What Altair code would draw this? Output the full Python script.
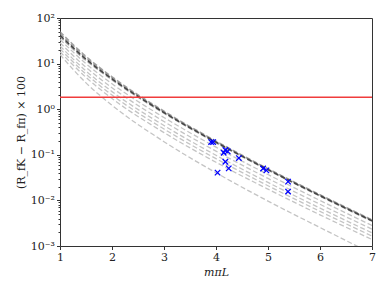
import altair as alt
import pandas as pd

# x grid (m_pi L) at which the curves are read
x_grid = [1, 1.5, 2, 3, 4, 5, 6, 7]

# dark band curves
band_1 = [50.1, 14.4, 5.13, 0.906, 0.200, 0.0495, 0.0133, 0.00375]
band_2 = [45.7, 13.4, 4.86, 0.875, 0.194, 0.0484, 0.0130, 0.00366]
band_3 = [41.7, 12.53, 4.62, 0.845, 0.189, 0.0473, 0.01271, 0.00358]
band_4 = [38.9, 11.8, 4.42, 0.817, 0.184, 0.0462, 0.0124, 0.0035]

# light curves
light_1 = [33.9, 9.95, 3.61, 0.656, 0.147, 0.0369, 0.00998, 0.00282]
light_2 = [28.7, 8.28, 2.96, 0.536, 0.120, 0.0303, 0.00822, 0.00234]
light_3 = [24.3, 6.89, 2.43, 0.438, 0.0977, 0.0248, 0.00678, 0.00194]
light_4 = [21.1, 5.89, 2.05, 0.368, 0.0822, 0.0210, 0.00575, 0.00165]
light_5 = [18.2, 4.99, 1.72, 0.307, 0.0686, 0.0176, 0.00483, 0.00139]
light_6 = [15.8, 3.78, 1.22, 0.194, 0.0404, 0.00966, 0.00254, 0.000682]

# data points
pts_x = [3.906, 3.945, 4.148, 4.181, 4.225, 4.18, 4.245, 4.03, 4.44, 4.906, 4.969, 5.386, 5.386]
pts_y = [0.19, 0.19, 0.111, 0.127, 0.119, 0.0706, 0.0504, 0.0406, 0.0847, 0.050, 0.0456, 0.0258, 0.0156]

# threshold
threshold = 1.83

light_curves = {"l1": light_1, "l2": light_2, "l3": light_3, "l4": light_4, "l5": light_5, "l6": light_6}
band_curves = {"b1": band_1, "b2": band_2, "b4": band_4}
core_curves = {"b3": band_3}


def to_df(d):
    rows = []
    for name, vals in d.items():
        for xv, yv in zip(x_grid, vals):
            rows.append({"curve": name, "x": xv, "y": yv})
    return pd.DataFrame(rows)


pts = pd.DataFrame({"x": pts_x, "y": pts_y})

font = "DejaVu Serif"
xscale = alt.Scale(domain=[1, 7], nice=False, zero=False)
yscale = alt.Scale(type="log", domain=[1e-3, 1e2], nice=False)

is_major = "abs(log(datum.value)/LN10 - round(log(datum.value)/LN10)) < 0.001"
label_expr = ("!(" + is_major + ") ? '' : "
              "datum.value >= 99 ? '10²' : datum.value >= 9 ? '10¹' : datum.value >= 0.9 ? '10⁰' : "
              "datum.value >= 0.09 ? '10⁻¹' : datum.value >= 0.009 ? '10⁻²' : '10⁻³'")

major = [1e-3, 1e-2, 1e-1, 1, 10, 100]
minor = [m * 10 ** e for e in range(-3, 2) for m in range(2, 10)]
all_ticks = sorted(major + minor)

dash = [5, 2.5]

light = alt.Chart(to_df(light_curves)).mark_line(
    strokeDash=dash, strokeWidth=1.3, color="#c4c4c4", interpolate="monotone", clip=True
).encode(
    x=alt.X("x:Q", scale=xscale, axis=alt.Axis(values=[1, 2, 3, 4, 5, 6, 7], title="mπL",
            titleFontStyle="italic", labelFlush=False, tickSize=3.5, grid=False, domain=False,
            format="d")),
    y=alt.Y("y:Q", scale=yscale, axis=alt.Axis(
        values=all_ticks, labelExpr=label_expr,
        tickSize={"condition": {"test": is_major, "value": 3.5}, "value": 2},
        title="(R_fK − R_fπ) × 100", grid=False, domain=False)),
    detail="curve:N",
)

band = alt.Chart(to_df(band_curves)).mark_line(
    strokeDash=dash, strokeWidth=1.5, color="#8c8c8c", opacity=0.8, interpolate="monotone", clip=True
).encode(
    x=alt.X("x:Q", scale=xscale),
    y=alt.Y("y:Q", scale=yscale),
    detail="curve:N",
)

core = alt.Chart(to_df(core_curves)).mark_line(
    strokeDash=dash, strokeWidth=1.5, color="#444444", interpolate="monotone", clip=True
).encode(
    x=alt.X("x:Q", scale=xscale),
    y=alt.Y("y:Q", scale=yscale),
    detail="curve:N",
)

red = alt.Chart(pd.DataFrame({"y": [threshold]})).mark_rule(color="#f03c3c", strokeWidth=1.6).encode(
    y=alt.Y("y:Q", scale=yscale),
)

xshape = "M-1,-1L1,1M1,-1L-1,1"
points = alt.Chart(pts).mark_point(shape=xshape, filled=False, color="#0000ff", size=30,
                                   strokeWidth=1.3, opacity=1).encode(
    x=alt.X("x:Q", scale=xscale),
    y=alt.Y("y:Q", scale=yscale),
)

chart = alt.layer(light, band, core, red, points).properties(
    width=312, height=228,
    autosize=alt.AutoSizeParams(type="none"),
    padding={"left": 52, "top": 10, "right": 5, "bottom": 34},
).configure_view(stroke="#333333", strokeWidth=1).configure_axis(
    labelFont=font, titleFont=font, labelFontSize=11, titleFontSize=11, labelColor="#222",
    titleColor="#222", tickColor="#333", titleFontWeight="normal"
)

chart.save("out.html", embed_options={"renderer": "svg", "actions": False})
